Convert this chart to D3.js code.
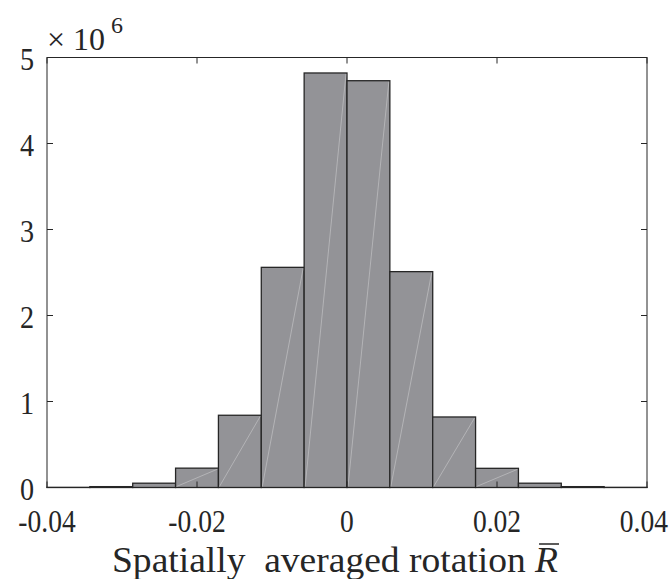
<!DOCTYPE html>
<html>
<head>
<meta charset="utf-8">
<script src="https://cdn.jsdelivr.net/npm/d3@7"></script>
<style>
  html, body { margin: 0; padding: 0; background: #fff; }
  svg { display: block; }
</style>
</head>
<body>
<svg id="chart" width="671" height="579"></svg>
<script>
// ---- data ----
const binEdges = [-0.04, -0.034286, -0.028571, -0.022857, -0.017143, -0.011429, -0.005714,
                  0, 0.005714, 0.011429, 0.017143, 0.022857, 0.028571, 0.034286, 0.04];
const counts = [0.002, 0.01, 0.05, 0.225, 0.84, 2.56, 4.82, 4.73, 2.51, 0.82, 0.223, 0.05, 0.01, 0.002]; // x 10^6
const xTicks = [-0.04, -0.02, 0, 0.02, 0.04];
const xTickLabels = ["-0.04", "-0.02", "0", "0.02", "0.04"];
const yTicks = [0, 1, 2, 3, 4, 5];
const yTickLabels = ["0", "1", "2", "3", "4", "5"];
const xLabelText = "Spatially  averaged rotation ";
const xLabelSymbol = "R";
const exponentBase = "\u00d7 10";
const exponentPower = "6";

const fontFam = '"Liberation Serif", "Times New Roman", Tinos, "DejaVu Serif", "Noto Serif", serif';

// ---- layout ----
const W = 671;
const pL = 47, pR = 647, pT = 57.5, pB = 487.5;
const svg = d3.select("#chart").style("font-family", fontFam);
const x = d3.scaleLinear().domain([-0.04, 0.04]).range([pL, pR]);
const y = d3.scaleLinear().domain([0, 5]).range([pB, pT]);
const textColor = "#262626";

const bins = counts.map((c, i) => ({x0: binEdges[i], x1: binEdges[i + 1], v: c}));

// bars
svg.append("g").selectAll("rect").data(bins).join("rect")
  .attr("x", d => x(d.x0))
  .attr("y", d => y(d.v))
  .attr("width", d => x(d.x1) - x(d.x0))
  .attr("height", d => y(0) - y(d.v))
  .attr("fill", "#939397")
  .attr("stroke", "#262626")
  .attr("stroke-width", 1.3);

// faint diagonal rendering lines
svg.append("g").selectAll("line").data(bins.filter(d => y(0) - y(d.v) > 5)).join("line")
  .attr("x1", d => x(d.x0) + 1)
  .attr("y1", y(0) - 1)
  .attr("x2", d => x(d.x1) - 1)
  .attr("y2", d => y(d.v) + 1)
  .attr("stroke", "#ffffff")
  .attr("stroke-opacity", 0.3)
  .attr("stroke-width", 1);

// axes box
const axisColor = "#262626";
svg.append("rect")
  .attr("x", pL).attr("y", pT)
  .attr("width", pR - pL).attr("height", pB - pT)
  .attr("fill", "none").attr("stroke", axisColor).attr("stroke-width", 1);

const tickLen = 6;
const tg = svg.append("g").attr("stroke", axisColor).attr("stroke-width", 1);
xTicks.forEach(t => {
  tg.append("line").attr("x1", x(t)).attr("x2", x(t)).attr("y1", pB).attr("y2", pB - tickLen);
  tg.append("line").attr("x1", x(t)).attr("x2", x(t)).attr("y1", pT).attr("y2", pT + tickLen);
});
yTicks.forEach(t => {
  tg.append("line").attr("x1", pL).attr("x2", pL + tickLen).attr("y1", y(t)).attr("y2", y(t));
  tg.append("line").attr("x1", pR).attr("x2", pR - tickLen).attr("y1", y(t)).attr("y2", y(t));
});

// narrow a text to mimic the condensed serif of the reference
function condense(sel, k) {
  sel.each(function() {
    const w = this.getComputedTextLength();
    d3.select(this).attr("textLength", w * k).attr("lengthAdjust", "spacingAndGlyphs");
  });
}

// tick labels
const xt = svg.append("g").selectAll("text").data(xTicks).join("text")
  .attr("x", d => x(d))
  .attr("y", 532)
  .attr("text-anchor", "middle")
  .attr("font-size", 32)
  .attr("fill", textColor)
  .text((d, i) => xTickLabels[i]);
// keep labels inside the picture (right-align any label that would overflow)
xt.each(function() {
  const w = this.getComputedTextLength();
  const cx = +d3.select(this).attr("x");
  if (cx + w / 2 > W - 3) {
    d3.select(this).attr("text-anchor", "end").attr("x", W - 3);
  }
});
condense(xt, 0.86);

const yt = svg.append("g").selectAll("text").data(yTicks).join("text")
  .attr("x", 34)
  .attr("y", d => y(d) + 12)
  .attr("text-anchor", "end")
  .attr("font-size", 32)
  .attr("fill", textColor)
  .text((d, i) => yTickLabels[i]);
condense(yt, 0.88);

// exponent
const ex = svg.append("text").attr("x", 47).attr("y", 50).attr("font-size", 32).attr("fill", textColor);
ex.append("tspan").text(exponentBase);
ex.append("tspan").attr("font-size", 24).attr("dy", -17).attr("dx", 6).text(exponentPower);

// x label
const xl = svg.append("text")
  .attr("x", 112)
  .attr("y", 572)
  .attr("text-anchor", "start")
  .attr("font-size", 35)
  .attr("fill", textColor)
  .attr("xml:space", "preserve")
  .style("white-space", "pre");
xl.append("tspan").text(xLabelText);
xl.append("tspan").attr("font-style", "italic").text(xLabelSymbol);
xl.attr("textLength", 446).attr("lengthAdjust", "spacingAndGlyphs");
const node = xl.node();
const n = node.getNumberOfChars();
const ext = node.getExtentOfChar(n - 1);
svg.append("line")
  .attr("x1", ext.x + 4).attr("x2", ext.x + ext.width + 1)
  .attr("y1", ext.y + 3).attr("y2", ext.y + 3)
  .attr("stroke", textColor).attr("stroke-width", 1.5);
</script>
</body>
</html>
